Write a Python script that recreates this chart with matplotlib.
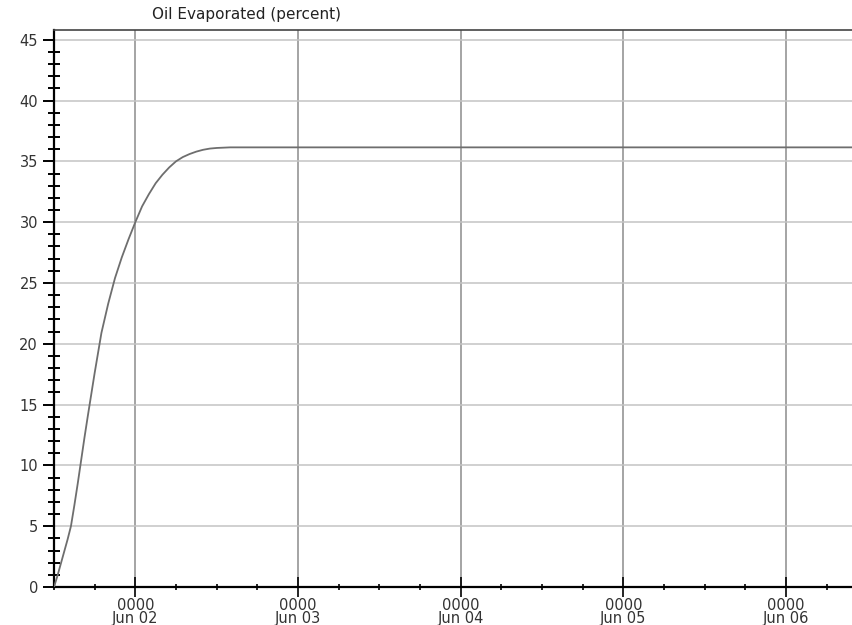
import matplotlib
matplotlib.use("Agg")
import matplotlib.pyplot as plt
import matplotlib.dates as mdates
from matplotlib.ticker import MultipleLocator
from datetime import datetime, timedelta

# Hours since release (Jun 01 12:00) and percent of oil evaporated
start = datetime(2010, 6, 1, 12, 0)
hours = [0, 0.5, 1, 1.5, 2, 2.5, 3, 3.5, 4, 4.5, 5, 6, 7, 8, 9, 10, 11, 12,
         13, 14, 15, 16, 17, 18, 19, 20, 21, 22, 23, 24, 26, 28, 36, 60, 84,
         108, 124]
evaporated = [0, 0.9, 1.9, 2.9, 3.9, 5.0, 6.7, 8.5, 10.4, 12.3, 14.1, 17.6,
              20.9, 23.3, 25.4, 27.1, 28.6, 30.0, 31.3, 32.3, 33.2, 33.9,
              34.5, 35.0, 35.35, 35.6, 35.8, 35.95, 36.05, 36.1, 36.15,
              36.15, 36.15, 36.15, 36.15, 36.15, 36.15]
title = "Oil Evaporated (percent)"
y_ticks = [0, 5, 10, 15, 20, 25, 30, 35, 40, 45]

times = [start + timedelta(hours=h) for h in hours]

fig = plt.figure(figsize=(8.53, 6.25), dpi=100)
ax = fig.add_axes([54 / 853, 38 / 625, 1 - 54 / 853, 557 / 625])

label_family = "DejaVu Sans"
label_size = 10.5
label_color = "#333333"

ax.plot(times, evaporated, color="#6e6e6e", lw=1.3, zorder=3)

ax.set_xlim(start, datetime(2010, 6, 6, 9, 54))
ax.set_ylim(0, 45.8)

ax.xaxis.set_major_locator(mdates.DayLocator())
ax.xaxis.set_minor_locator(mdates.HourLocator(byhour=[6, 12, 18]))
ax.xaxis.set_major_formatter(mdates.DateFormatter("%H%M\n%b %d"))
ax.set_yticks(y_ticks)
ax.yaxis.set_minor_locator(MultipleLocator(1))

ax.grid(True, which="major", axis="x", color="#8c8c8c", lw=1.1)
ax.grid(True, which="major", axis="y", color="#c4c4c4", lw=1.1)

ax.tick_params(axis="y", which="major", direction="out", length=8, width=1.4,
               color="black", pad=3.5)
ax.tick_params(axis="y", which="minor", direction="inout", length=9,
               width=1.4, color="black")
ax.tick_params(axis="x", which="major", direction="inout", length=14,
               width=1.2, color="black", pad=1)
ax.tick_params(axis="x", which="minor", direction="inout", length=5,
               width=1.2, color="black")

for lbl in ax.get_xticklabels() + ax.get_yticklabels():
    lbl.set_fontfamily(label_family)
    lbl.set_fontsize(label_size)
    lbl.set_color(label_color)
for lbl in ax.get_xticklabels():
    lbl.set_linespacing(0.85)

ax.spines["left"].set_linewidth(1.6)
ax.spines["bottom"].set_linewidth(1.6)
ax.spines["top"].set_color("#444444")
ax.spines["top"].set_linewidth(1.2)
ax.spines["right"].set_visible(False)

fig.text(152 / 853, 1 - 14 / 625, title, ha="left", va="center",
         fontfamily=label_family, fontsize=11, color="#222222")

fig.savefig("out.png", dpi=100)
